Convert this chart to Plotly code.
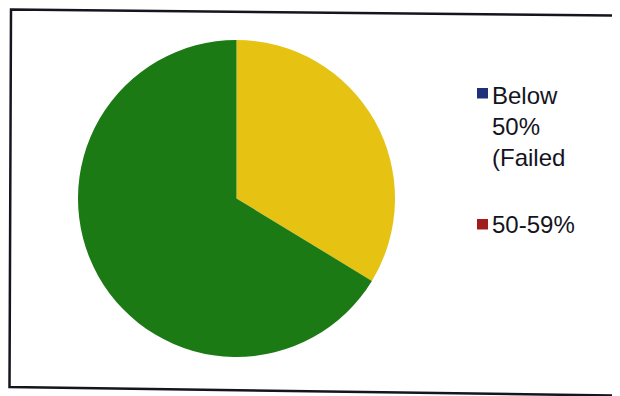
import plotly.graph_objects as go

# Data
categories = ["Below 50% (Failed)", "50-59%", "60-69%", "70% & above"]
values = [0, 0, 33.7, 66.3]
colors = ["#1f2f7a", "#a31c1c", "#e6c212", "#1b7a14"]
legend_labels = ["Below<br>50%<br>(Failed", "50-59%"]
legend_colors = ["#1f2f7a", "#a31c1c"]

W, H = 620, 396
OFF = 8  # page body margin


def px(x):
    return (x - OFF) / W


def py(y):
    return 1 - (y - OFF) / H


cx, cy, r = 236.5, 198.5, 158.5

fig = go.Figure()
fig.add_trace(go.Pie(
    labels=categories,
    values=values,
    marker=dict(colors=colors, line=dict(width=0)),
    sort=False,
    direction="clockwise",
    rotation=0,
    textinfo="none",
    showlegend=False,
    domain=dict(x=[px(cx - r), px(cx + r)], y=[py(cy + r), py(cy - r)]),
))

shapes = []
# frame
shapes.append(dict(
    type="path", xref="paper", yref="paper",
    path=f"M {px(11)} {py(9.5)} L {px(650)} {py(16)} L {px(650)} {py(396)} L {px(9.5)} {py(387)} Z",
    line=dict(color="#151520", width=2.5), fillcolor="rgba(0,0,0,0)",
))
# legend markers
marker_y = [88, 219]
for c, yy in zip(legend_colors, marker_y):
    shapes.append(dict(
        type="rect", xref="paper", yref="paper",
        x0=px(477), x1=px(488), y0=py(yy), y1=py(yy + 10.5),
        fillcolor=c, line=dict(width=0),
    ))

annotations = []
text_top = [80, 209]
for lab, yy in zip(legend_labels, text_top):
    annotations.append(dict(
        x=px(490), y=py(yy), xref="paper", yref="paper",
        xanchor="left", yanchor="top", align="left",
        text=lab, showarrow=False,
        font=dict(family="Liberation Sans, Arial, sans-serif", size=24, color="#14141e"),
    ))

fig.update_layout(
    width=W, height=H,
    margin=dict(l=0, r=0, t=0, b=0),
    paper_bgcolor="white",
    plot_bgcolor="white",
    shapes=shapes,
    annotations=annotations,
)

fig.write_html("out.html")
